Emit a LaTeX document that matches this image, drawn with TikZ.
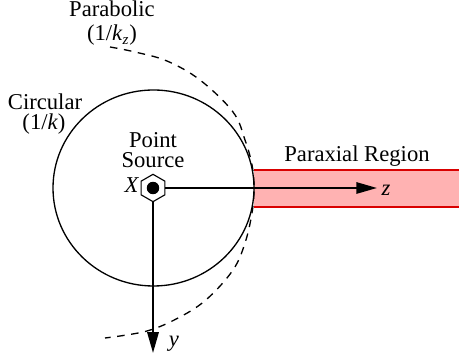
\documentclass[tikz,border=0pt]{standalone}
\usepackage{fontspec}
\setmainfont{Liberation Serif}
\usetikzlibrary{arrows.meta,shapes.geometric}

\begin{document}
\begin{tikzpicture}[x=0.53pt,y=-0.53pt,
    lbl/.style={font=\rmfamily\fontsize{12}{12}\selectfont, inner sep=0pt, anchor=base},
    axis/.style={line width=1.1pt, -{Triangle[length=11pt,width=6pt]}},
    curv/.style={line width=0.7pt},
    para/.style={curv, dash pattern=on 4pt off 3.5pt}]
    \useasboundingbox (0,0) rectangle (459,356);
    % paraxial band
    \fill[red!30] (254,170) rectangle (459,207);
    \draw[red!85!black, line width=0.6pt] (254,170) -- (459,170) (254,207) -- (459,207);

    \draw[curv] (153.5,188) ellipse [x radius=100.5, y radius=98];
    \draw[para] plot[smooth, tension=0.6] coordinates {(110,47) (135,52) (167,61) (200,80)
        (233,112) (245,140) (252,165) (254,188) (252,213) (245,243) (233,270)
        (207,299) (180,317) (147,331) (105,338)};

    % point source
    \node[draw, regular polygon, regular polygon sides=6, shape border rotate=90,
          minimum size=14.5pt, inner sep=0pt, line width=0.6pt] at (153,188) (src) {};
    \fill (src.center) circle (3.3pt);
    \coordinate (zend) at (377,188);
    \coordinate (yend) at (153,353);
    \draw[axis] (src.east) -- (zend);
    \draw[axis] (src.south) -- (yend);

    \node[lbl] at (112,17) (par) {Parabolic};
    \node[lbl] at (112,41) (park) {(1/\textit{k}\textsubscript{\textit{z}})};
    \node[lbl] at (45,110) (cir) {Circular};
    \node[lbl] at (44,130) (cirk) {(1/\textit{k})};
    \node[lbl] at (153,148) (pt) {Point};
    \node[lbl] at (153,168) (so) {Source};
    \node[lbl] at (132,193) (xlab) {\textit{X}};
    \node[lbl] at (357,162) (reg) {Paraxial Region};
    \node[lbl] at (386,196) (zlab) {\textit{z}};
    \node[lbl] at (174,347) (ylab) {\textit{y}};
\end{tikzpicture}
\end{document}
